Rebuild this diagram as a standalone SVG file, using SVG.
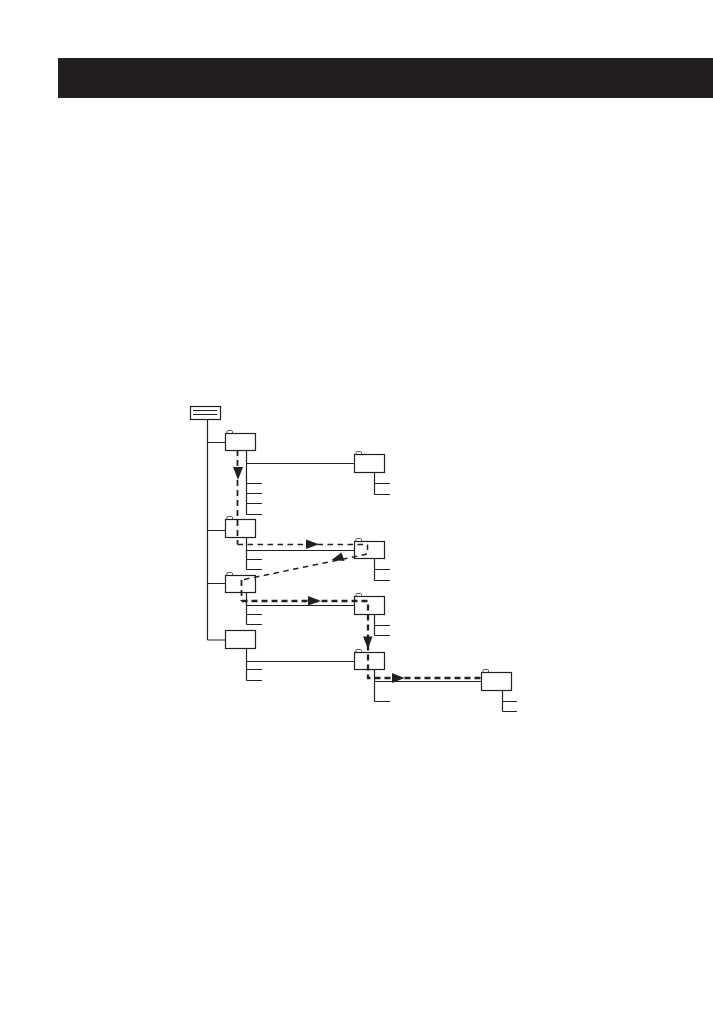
<svg xmlns="http://www.w3.org/2000/svg" width="713" height="1022" viewBox="0 0 713 1022">
<style>
.l{fill:none;stroke:#231f20;stroke-width:1.2}
.b{fill:#fff;stroke:#231f20;stroke-width:1.2}
.t{fill:#fff;stroke:#58595b;stroke-width:1}
.d{fill:none;stroke:#231f20;stroke-width:1.5;stroke-dasharray:5.500 4.500}
.d1{fill:none;stroke:#231f20;stroke-width:1.800;stroke-dasharray:6 4}
.d2{fill:none;stroke:#231f20;stroke-width:2.300;stroke-dasharray:6 4}
.a{fill:#231f20;stroke:none}
</style>
<rect id="header-bar" x="58" y="58" width="655" height="40" fill="#231f20"/>
<g id="connectors">
<path class="l" d="M207.500 419.500V640M207.500 442.500H225.500M207.500 530.500H225.500M207.500 583.500H225.500M207.500 640H225.500"/>
<path class="l" d="M246.500 450V514.500M246.500 463.500H354.500M246.500 483.500H262M246.500 493.500H262M246.500 503.500H262M246.500 514.500H262"/>
<path class="l" d="M246.500 537V569.500M246.500 550.500H354.500M246.500 559.500H262M246.500 569.500H262"/>
<path class="l" d="M246.500 592V624.500M246.500 605.500H354.500M246.500 614.500H262M246.500 624.500H262"/>
<path class="l" d="M246.500 648V680.500M246.500 661.500H354.500M246.500 669.500H262M246.500 680.500H262"/>
<path class="l" d="M374.500 472V494.500M374.500 483.500H390M374.500 494.500H390"/>
<path class="l" d="M374.500 558V580.500M374.500 569.500H390M374.500 580.500H390"/>
<path class="l" d="M374.500 614V635.500M374.500 625.500H390M374.500 635.500H390"/>
<path class="l" d="M374.500 669V701.500M374.500 681.500H481.500M374.500 701.500H390"/>
<path class="l" d="M502.500 690V711.500M502.500 701.500H517M502.500 711.500H517"/>
</g>
<g id="root"><rect class="b" x="190.500" y="406.500" width="30" height="13"/><path class="l" d="M193 410.500H217M193 414.500H217"/></g>
<g id="folder-1"><path class="t" d="M227 433V431.500Q227 430.500 228 430.500H231.500Q232.500 430.500 232.500 431.500V433"/><rect class="b" x="225.500" y="433.500" width="30" height="17"/></g>
<g id="folder-2"><path class="t" d="M227 519V517.500Q227 516.500 228 516.500H231.500Q232.500 516.500 232.500 517.500V519"/><rect class="b" x="225.500" y="519.500" width="30" height="18"/></g>
<g id="folder-3"><path class="t" d="M227 575V573.500Q227 572.500 228 572.500H231.500Q232.500 572.500 232.500 573.500V575"/><rect class="b" x="225.500" y="575.500" width="30" height="17"/></g>
<g id="folder-4"><rect class="b" x="225.500" y="630.500" width="30" height="18"/></g>
<g id="sub-1"><path class="t" d="M356 454V452.500Q356 451.500 357 451.500H360.500Q361.500 451.500 361.500 452.500V454"/><rect class="b" x="354.500" y="454.500" width="30" height="18"/></g>
<g id="sub-2"><path class="t" d="M356 541V539.500Q356 538.500 357 538.500H360.500Q361.500 538.500 361.500 539.500V541"/><rect class="b" x="354.500" y="541.500" width="30" height="17"/></g>
<g id="sub-3"><path class="t" d="M356 596V594.500Q356 593.500 357 593.500H360.500Q361.500 593.500 361.500 594.500V596"/><rect class="b" x="354.500" y="596.500" width="30" height="18"/></g>
<g id="sub-4"><path class="t" d="M356 652V650.500Q356 649.500 357 649.500H360.500Q361.500 649.500 361.500 650.500V652"/><rect class="b" x="354.500" y="652.500" width="30" height="17"/></g>
<g id="sub-5"><path class="t" d="M483 672V670.500Q483 669.500 484 669.500H487.500Q488.500 669.500 488.500 670.500V672"/><rect class="b" x="481.500" y="672.500" width="30" height="18"/></g>
<g id="route">
<path class="d1" d="M237.500 450V544.500"/>
<path class="d" d="M237.500 544.500H367.500V554L241.500 580"/>
<path class="d1" d="M241.500 580V601"/>
<path class="d2" d="M241.500 601H368V678H481"/>
<path class="a" d="M233 467H243L238 480Z"/>
<path class="a" d="M306 539.500L319 544.300L306 549Z"/>
<path class="a" d="M331.500 560L341.500 552.500L344.500 561Z"/>
<path class="a" d="M308 596L321 601L308 605.500Z"/>
<path class="a" d="M363 636.500H372.500L368 649Z"/>
<path class="a" d="M392 673L404.500 678L392 683Z"/>
</g>
</svg>
